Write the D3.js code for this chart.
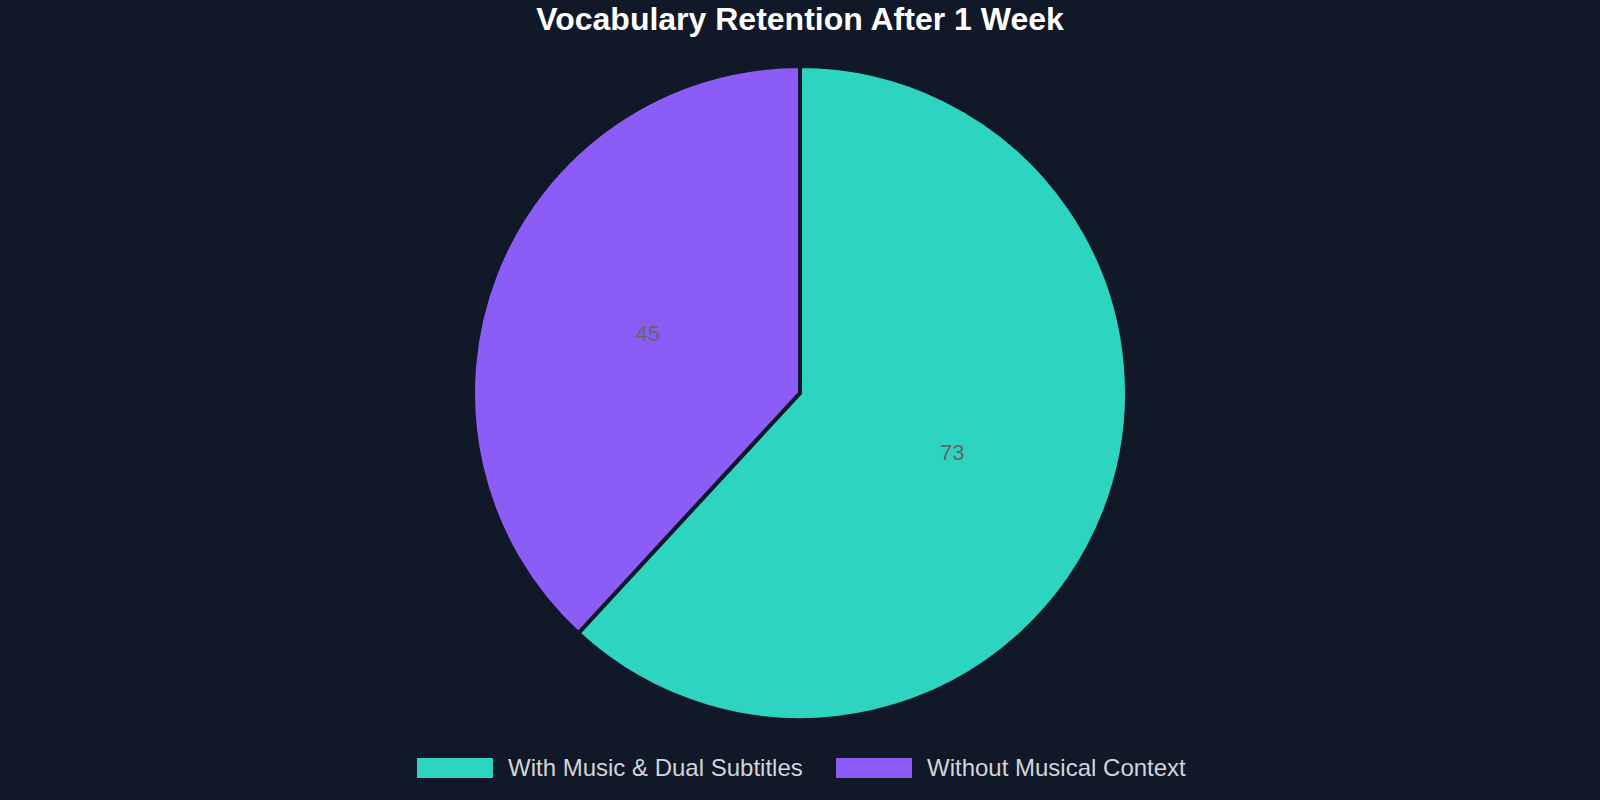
<!DOCTYPE html>
<html><head><meta charset="utf-8">
<script src="https://cdn.jsdelivr.net/npm/d3@7/dist/d3.min.js"></script>
<style>html,body{margin:0;background:#111827;}</style>
</head><body><svg id="c" width="1600" height="800"></svg>
<script>
const categories = ["With Music & Dual Subtitles", "Without Musical Context"];
const values = [73, 45];
const colors = ["#2dd4bf", "#8b5cf6"];
const title = "Vocabulary Retention After 1 Week";

const svg = d3.select("#c");
svg.append("rect").attr("width",1600).attr("height",800).attr("fill","#111827");
svg.append("text").attr("x",800).attr("y",30).attr("text-anchor","middle")
  .attr("font-family","Liberation Sans, Arial, sans-serif").attr("font-weight","bold")
  .attr("font-size",32).attr("fill","#ffffff").text(title);

const cx=800, cy=393, r=327;
const data = categories.map((c,i)=>({c, v:values[i], col:colors[i]}));
const pie = d3.pie().sort(null).value(d=>d.v);
const arc = d3.arc().innerRadius(0).outerRadius(r);
const lab = d3.arc().innerRadius(r*0.5).outerRadius(r*0.5);
const g = svg.append("g").attr("transform",`translate(${cx},${cy})`);
const arcs = pie(data);
g.selectAll("path").data(arcs).join("path").attr("d",arc)
  .attr("fill",d=>d.data.col).attr("stroke","#111827").attr("stroke-width",4);
g.selectAll("text").data(arcs).join("text")
  .attr("transform",d=>`translate(${lab.centroid(d)})`)
  .attr("text-anchor","middle").attr("dy","0.35em")
  .attr("font-family","Liberation Sans, Arial, sans-serif").attr("font-size",22)
  .attr("fill","#666666").text(d=>d.data.v);

const lg = svg.append("g").attr("font-family","Liberation Sans, Arial, sans-serif");
const items=[{x:417},{x:836}];
data.forEach((d,i)=>{
  const x=items[i].x;
  lg.append("rect").attr("x",x).attr("y",758).attr("width",76).attr("height",20).attr("fill",d.col);
  lg.append("text").attr("x",x+91).attr("y",768).attr("dy","0.35em").attr("font-size",24)
    .attr("fill","#d1d5db").text(d.c);
});
</script></body></html>
